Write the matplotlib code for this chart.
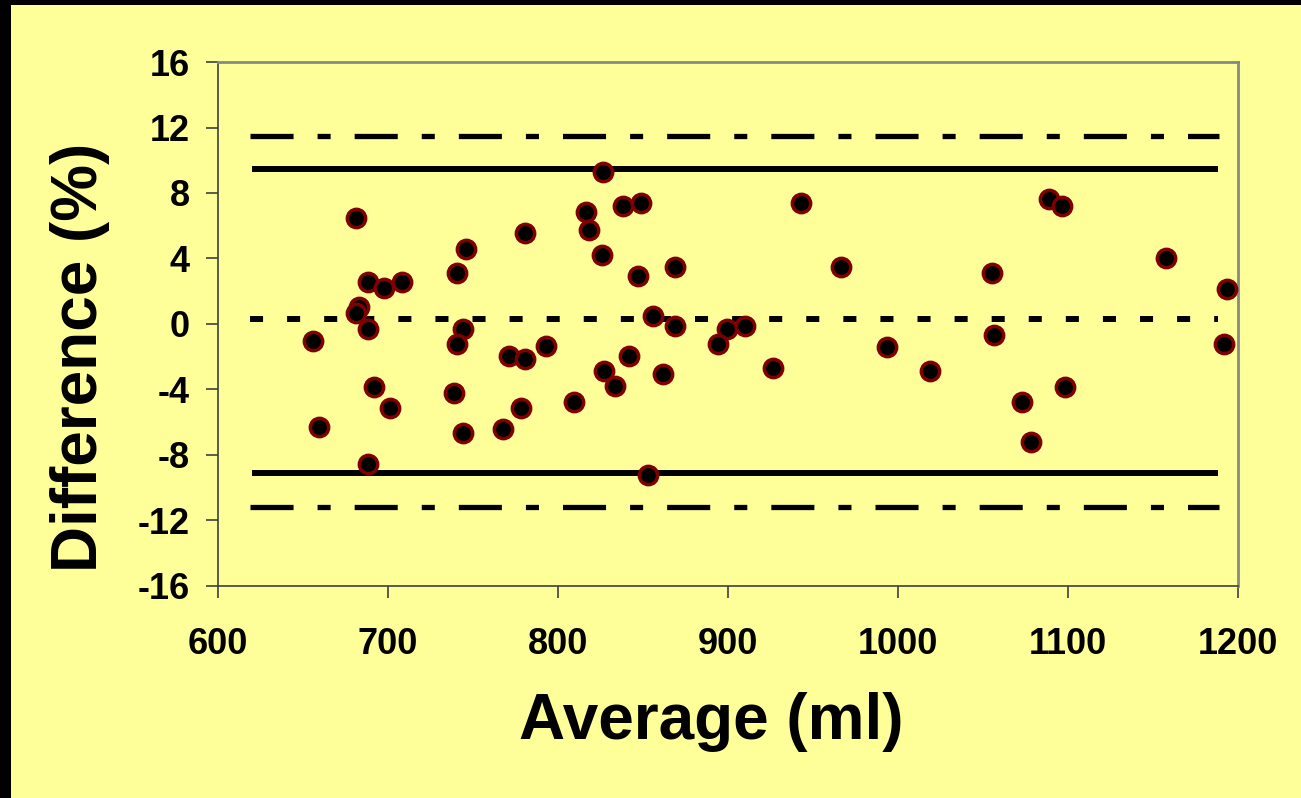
import matplotlib
matplotlib.use("Agg")
import matplotlib.pyplot as plt
from matplotlib.patches import Rectangle

plt.rcParams['font.family'] = ['Liberation Sans', 'DejaVu Sans']
plt.rcParams['font.weight'] = 'bold'
plt.rcParams['lines.scale_dashes'] = False
plt.rcParams['axes.unicode_minus'] = False

# Bland-Altman data: average volume (ml) vs difference (%)
average_ml = [681.4, 688.2, 697.5, 708.0, 682.8, 681.0, 688.2, 655.9, 691.8, 701.0,
              659.4, 688.2, 740.6, 746.0, 744.3, 740.6, 739.0, 744.3, 780.4, 771.4,
              780.4, 793.1, 778.4, 767.6, 809.2, 816.5, 818.0, 826.0, 827.0, 833.3,
              826.3, 838.0, 849.0, 943.0, 847.3, 869.0, 966.5, 856.0, 869.0, 899.6,
              910.2, 894.0, 993.5, 842.0, 926.7, 862.0, 1089.0, 1096.5, 1157.6, 1193.7,
              1056.5, 1191.8, 1098.0, 1072.7, 1078.2, 1055.0, 1019.0, 853.0]
difference_pct = [6.49, 2.55, 2.18, 2.55, 1.06, 0.69, -0.29, -1.02, -3.83, -5.15,
                  -6.27, -8.53, 3.09, 4.60, -0.29, -1.22, -4.19, -6.64, 5.54, -1.93,
                  -2.14, -1.36, -5.15, -6.43, -4.74, 6.86, 5.72, 4.22, -2.86, -3.79,
                  9.30, 7.20, 7.41, 7.41, 2.93, 3.48, 3.48, 0.49, -0.10, -0.31,
                  -0.10, -1.20, -1.40, -1.95, -2.71, -3.07, 7.61, 7.20, 4.05, 2.15,
                  -0.67, -1.22, -3.83, -4.78, -7.20, 3.10, -2.85, -9.25]

mean_diff = 0.3
upper_loa, lower_loa = 9.45, -9.1
upper_outer, lower_outer = 11.5, -11.15
line_start, line_end = 619, 1189

fig = plt.figure(figsize=(13.01, 7.98), dpi=100)
fig.patch.set_facecolor('#FFFF99')

# black frame strips on the top and left edges
fig.patches.append(Rectangle((0, 0), 11 / 1301, 1, transform=fig.transFigure,
                             facecolor='black', edgecolor='none', zorder=0))
fig.patches.append(Rectangle((0, 1 - 5 / 798), 1, 5 / 798, transform=fig.transFigure,
                             facecolor='black', edgecolor='none', zorder=0))

ax = fig.add_axes([0.1676, 0.2657, 0.784, 0.6566])
ax.set_facecolor('#FFFF99')

ax.hlines([upper_outer, lower_outer], line_start, line_end, colors='black', lw=3.8,
          linestyles=[(0, (31, 17.3, 9.4, 17.3))])
ax.hlines([upper_loa, lower_loa], line_start + 1, line_end - 1, colors='black', lw=4.3)
ax.hlines([mean_diff], line_start, line_end - 1, colors='black', lw=4.3,
          linestyles=[(0, (9.4, 17.3))])

ax.plot(average_ml, difference_pct, 'o', ms=13.2, mfc='black', mec='#800000',
        mew=2.5, zorder=5, clip_on=False)

ax.set_xlim(600, 1200)
ax.set_ylim(-16, 16)
ax.set_xticks(range(600, 1201, 100))
ax.set_yticks(range(-16, 17, 4))

for side in ['left', 'bottom']:
    ax.spines[side].set_color('#404040')
    ax.spines[side].set_linewidth(1.2)
for side in ['top', 'right']:
    ax.spines[side].set_color('#888888')
    ax.spines[side].set_linewidth(2)

ax.tick_params(axis='both', direction='out', length=8.5, width=1.2, color='#404040',
               labelsize=26)
ax.tick_params(axis='y', pad=12)
ax.tick_params(axis='x', pad=21)
for lab in ax.get_xticklabels() + ax.get_yticklabels():
    lab.set_fontweight('bold')

fig.text(711 / 1301, 1 - 722 / 798, 'Average (ml)', fontsize=46, fontweight='bold',
         ha='center', va='center')
fig.text(80 / 1301, 1 - 357 / 798, 'Difference (%)', fontsize=46, fontweight='bold',
         ha='center', va='center', rotation=90)

fig.savefig('out.png', dpi=100, facecolor=fig.get_facecolor())
